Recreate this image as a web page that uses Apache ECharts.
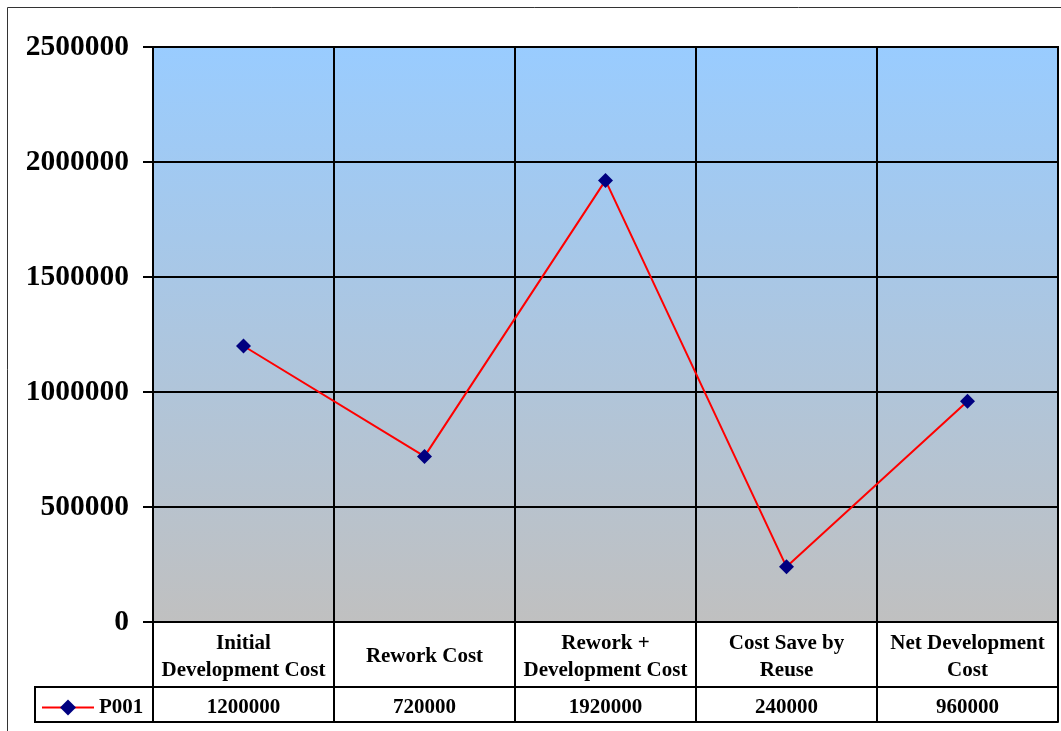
<!DOCTYPE html>
<html>
<head>
<meta charset="utf-8">
<script src="https://cdn.jsdelivr.net/npm/echarts@6/dist/echarts.min.js"></script>
<style>
html,body{margin:0;padding:0;background:#fff;}
#c{width:1061px;height:731px;}
</style>
</head>
<body>
<div id="c"></div>
<script>
const categories = ['Initial\nDevelopment Cost', 'Rework Cost', 'Rework +\nDevelopment Cost', 'Cost Save by\nReuse', 'Net Development\nCost'];
const seriesName = 'P001';
const values = [1200000, 720000, 1920000, 240000, 960000];
const yTicks = { min: 0, max: 2500000, interval: 500000 };

const FONT = "'Liberation Serif','Times New Roman',serif";
const chart = echarts.init(document.getElementById('c'), null, { renderer: 'canvas' });

const option = {
  animation: false,
  backgroundColor: '#fff',
  grid: {
    left: 153, right: 3, top: 47, bottom: 109,
    show: true,
    borderColor: '#000', borderWidth: 2,
    backgroundColor: new echarts.graphic.LinearGradient(0, 0, 0, 1, [
      { offset: 0, color: '#99CCFF' },
      { offset: 1, color: '#C0C0C0' }
    ])
  },
  legend: {
    data: [seriesName],
    left: 41, top: 697,
    itemWidth: 52, itemHeight: 20, itemGap: 5,
    padding: 0,
    textStyle: { fontFamily: FONT, fontWeight: 'bold', fontSize: 21, color: '#000' }
  },
  xAxis: [
    {
      type: 'category', data: categories, position: 'bottom', boundaryGap: true,
      axisLine: { show: true, lineStyle: { color: '#000', width: 2 } },
      axisTick: { show: true, length: 100, lineStyle: { color: '#000', width: 2 } },
      splitLine: { show: true, lineStyle: { color: '#000', width: 2 } },
      axisLabel: {
        interval: 0, margin: 35, verticalAlign: 'middle', lineHeight: 27,
        fontFamily: FONT, fontWeight: 'bold', fontSize: 21, color: '#000'
      }
    },
    {
      type: 'category', data: categories, position: 'bottom', offset: 65, boundaryGap: true,
      axisLine: { show: true, lineStyle: { color: '#000', width: 2 } },
      axisTick: { show: false }, splitLine: { show: false },
      axisLabel: {
        interval: 0, margin: 21, verticalAlign: 'middle',
        formatter: (v, i) => String(values[i]),
        fontFamily: FONT, fontWeight: 'bold', fontSize: 21, color: '#000'
      }
    },
    {
      type: 'category', data: categories, position: 'bottom', offset: 100, boundaryGap: true,
      axisLine: { show: true, lineStyle: { color: '#000', width: 2 } },
      axisTick: { show: false }, splitLine: { show: false },
      axisLabel: { show: false }
    }
  ],
  yAxis: {
    type: 'value', min: yTicks.min, max: yTicks.max, interval: yTicks.interval,
    axisLine: { show: true, lineStyle: { color: '#000', width: 2 } },
    axisTick: { show: true, length: 10, lineStyle: { color: '#000', width: 2 } },
    splitLine: { show: true, lineStyle: { color: '#000', width: 2 } },
    axisLabel: {
      margin: 24, padding: [8, 0, 0, 0],
      formatter: v => String(v),
      fontFamily: FONT, fontWeight: 'bold', fontSize: 29.5, color: '#000'
    }
  },
  series: [{
    name: seriesName, type: 'line', data: values, xAxisIndex: 0,
    symbol: 'diamond', symbolSize: 15,
    lineStyle: { color: '#FF0000', width: 2 },
    itemStyle: { color: '#000080' }
  }],
  graphic: [
    { type: 'rect', shape: { x: 35, y: 687, width: 118, height: 35 }, style: { fill: 'none', stroke: '#000', lineWidth: 2 }, z: 10 },
    { type: 'rect', shape: { x: 7.5, y: 7.5, width: 2000, height: 2000 }, style: { fill: 'none', stroke: '#333', lineWidth: 1 }, z: 10 }
  ]
};
chart.setOption(option);
</script>
</body>
</html>
